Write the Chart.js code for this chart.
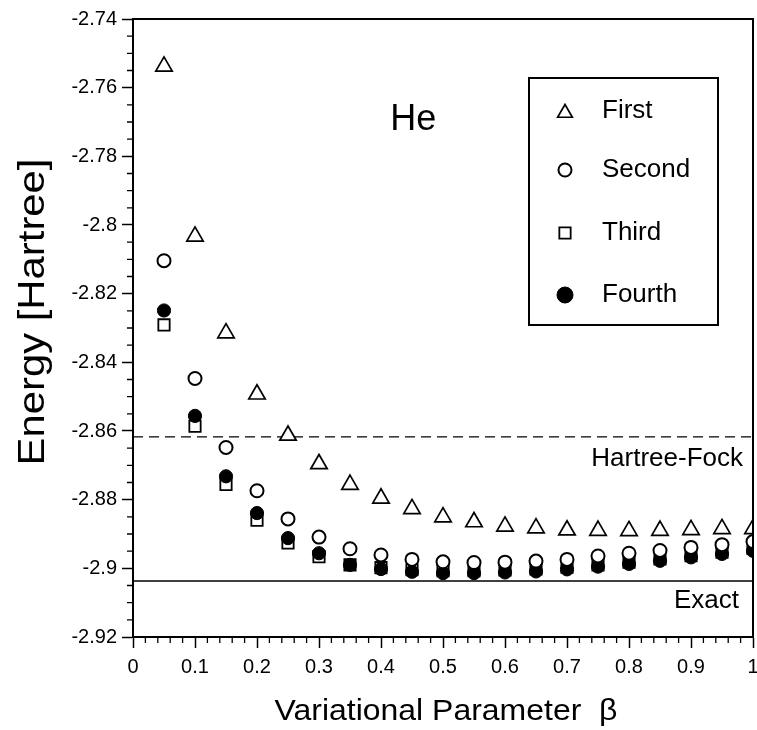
<!DOCTYPE html>
<html>
<head>
<meta charset="utf-8">
<script src="https://cdn.jsdelivr.net/npm/chart.js@4.4.1/dist/chart.umd.min.js"></script>
<style>
html,body{margin:0;padding:0;background:#fff;}
#wrap{width:757px;height:730px;}
</style>
</head>
<body>
<div id="wrap"><canvas id="c" width="757" height="730"></canvas></div>
<script>
const beta = [0.05,0.1,0.15,0.2,0.25,0.3,0.35,0.4,0.45,0.5,0.55,0.6,0.65,0.7,0.75,0.8,0.85,0.9,0.95,1.0];
const first = [-2.7538,-2.8033,-2.8315,-2.8493,-2.8613,-2.8696,-2.8756,-2.8796,-2.8827,-2.8851,-2.8865,-2.8878,-2.8883,-2.8889,-2.8890,-2.8891,-2.8890,-2.8888,-2.8885,-2.8885];
const second = [-2.8104,-2.8447,-2.8648,-2.8774,-2.8856,-2.8909,-2.8943,-2.8961,-2.8974,-2.8981,-2.8983,-2.8982,-2.8979,-2.8974,-2.8964,-2.8956,-2.8948,-2.8939,-2.8931,-2.8922];
const third = [-2.8291,-2.8586,-2.8756,-2.8860,-2.8926,-2.8966,-2.8990,-2.8998,-2.9004,-2.9007,-2.9007,-2.9005,-2.9002,-2.8997,-2.8990,-2.8982,-2.8973,-2.8963,-2.8953,-2.8942];
const fourth = [-2.8249,-2.8556,-2.8732,-2.8839,-2.8912,-2.8956,-2.8990,-2.9002,-2.9010,-2.9014,-2.9014,-2.9012,-2.9009,-2.9003,-2.8995,-2.8987,-2.8978,-2.8968,-2.8958,-2.8949];
const hartreeFock = -2.8617;
const exact = -2.9037;
const xTicks = [0,0.1,0.2,0.3,0.4,0.5,0.6,0.7,0.8,0.9,1];
const yTicks = [-2.92,-2.9,-2.88,-2.86,-2.84,-2.82,-2.8,-2.78,-2.76,-2.74];
const seriesNames = ['First','Second','Third','Fourth'];
const xTitle = 'Variational Parameter  \u03B2';
const yTitle = 'Energy [Hartree]';

const FONT = '"Liberation Sans", Arial, Helvetica, sans-serif';
const pts = arr => beta.map((b,i)=>({x:b,y:arr[i]}));

const markerStyles = [
  {pointStyle:'triangle', radius:9.5, backgroundColor:'#fff', borderColor:'#000', borderWidth:1.7},
  {pointStyle:'circle', radius:6.5, backgroundColor:'#fff', borderColor:'#000', borderWidth:2},
  {pointStyle:'rect', radius:8, backgroundColor:'#fff', borderColor:'#000', borderWidth:1.8},
  {pointStyle:'circle', radius:6.6, backgroundColor:'#000', borderColor:'#000', borderWidth:1}
];
const seriesData = [first, second, third, fourth];
const drawOrder = [4,1,3,2];

const datasets = seriesData.map((arr,i)=>({
  label: seriesNames[i],
  data: pts(arr),
  showLine:false,
  pointStyle: markerStyles[i].pointStyle,
  pointRadius: markerStyles[i].radius,
  pointHoverRadius: markerStyles[i].radius,
  pointBackgroundColor: markerStyles[i].backgroundColor,
  pointBorderColor: markerStyles[i].borderColor,
  pointBorderWidth: markerStyles[i].borderWidth,
  order: drawOrder[i],
  clip: 0
}));
datasets.push({
  label:'Hartree-Fock', type:'line', data:[{x:0,y:hartreeFock},{x:1,y:hartreeFock}],
  borderColor:'#000', borderWidth:1.3, borderDash:[10,6], pointRadius:0, order:6, clip:0
});
datasets.push({
  label:'Exact', type:'line', data:[{x:0,y:exact},{x:1,y:exact}],
  borderColor:'#000', borderWidth:1.5, pointRadius:0, order:5, clip:0
});

function stretchedText(ctx, text, x, y, size, targetWidth, rotate){
  ctx.save();
  ctx.font = size + 'px ' + FONT;
  const w = ctx.measureText(text).width;
  ctx.translate(x, y);
  if (rotate) ctx.rotate(-Math.PI/2);
  ctx.scale(targetWidth / w, 1);
  ctx.textAlign = 'center';
  ctx.textBaseline = 'alphabetic';
  ctx.fillStyle = '#000';
  ctx.fillText(text, 0, 0);
  ctx.restore();
}

const decor = {
  id:'decor',
  afterDraw(chart){
    const {ctx, chartArea:a, scales:{x,y}} = chart;
    ctx.save();
    // frame
    ctx.strokeStyle='#000'; ctx.lineWidth=2;
    ctx.strokeRect(a.left, a.top, a.right-a.left, a.bottom-a.top);
    // minor ticks
    ctx.lineWidth=1.3;
    ctx.beginPath();
    for(let k=0;k<=36;k++){
      if(k%4===0) continue;
      const py = y.getPixelForValue(-2.92 + k*0.005);
      ctx.moveTo(a.left-6, py); ctx.lineTo(a.left, py);
    }
    for(let k=0;k<=50;k++){
      if(k%5===0) continue;
      const px = x.getPixelForValue(k*0.02);
      ctx.moveTo(px, a.bottom); ctx.lineTo(px, a.bottom+6);
    }
    ctx.stroke();
    // axis titles
    stretchedText(ctx, xTitle, (a.left+a.right)/2 + 3, a.bottom + 83, 29, 343, false);
    stretchedText(ctx, yTitle, 44, (a.top+a.bottom)/2 - 16, 37, 307, true);
    // text labels
    ctx.fillStyle='#000';
    ctx.textBaseline='middle';
    ctx.font = '26px ' + FONT;
    ctx.textAlign='right';
    ctx.fillText('Hartree-Fock', a.right-10, y.getPixelForValue(hartreeFock)+22);
    ctx.fillText('Exact', a.right-14, y.getPixelForValue(exact)+20);
    ctx.textAlign='center';
    ctx.font = '36px ' + FONT;
    ctx.fillText('He', x.getPixelForValue(0.452), y.getPixelForValue(-2.7694));
    // legend
    const lx = a.right-224, ly = a.top+59, lw = 189, lh = 247;
    ctx.fillStyle='#fff';
    ctx.fillRect(lx,ly,lw,lh);
    ctx.strokeStyle='#000'; ctx.lineWidth=2;
    ctx.strokeRect(lx,ly,lw,lh);
    const rows=[33,92,155,217];
    ctx.font = '26px ' + FONT;
    ctx.textAlign='left';
    seriesNames.forEach((name,i)=>{
      const m = markerStyles[i];
      const cy = ly+rows[i];
      ctx.fillStyle = m.backgroundColor;
      ctx.strokeStyle = m.borderColor;
      ctx.lineWidth = m.borderWidth;
      Chart.helpers.drawPoint(ctx,{pointStyle:m.pointStyle, radius: i===3?8:(i===0?8.5:m.radius), borderWidth:m.borderWidth, rotation:0}, lx+36, cy + (i===0?2:0));
      ctx.fillStyle='#000';
      ctx.fillText(name, lx+73, cy);
    });
    ctx.restore();
  }
};

new Chart(document.getElementById('c'), {
  type:'scatter',
  data:{datasets},
  options:{
    responsive:false,
    animation:false,
    events:[],
    layout:{autoPadding:false, padding:{left:0,top:19,right:4,bottom:0}},
    plugins:{legend:{display:false}, tooltip:{enabled:false}},
    scales:{
      x:{
        type:'linear', min:0, max:1,
        afterBuildTicks(s){ s.ticks = xTicks.map(v=>({value:v})); },
        afterFit(s){ s.height = 93; s.paddingLeft = 0; s.paddingRight = 0; },
        ticks:{color:'#000', font:{family:FONT, size:20}, padding:7,
          callback:v=>String(Math.round(v*10)/10), maxRotation:0, autoSkip:false},
        grid:{drawOnChartArea:false, drawTicks:true, tickLength:11, tickColor:'#000', tickWidth:1.5},
        border:{display:true, color:'#000', width:2},
        title:{display:false}
      },
      y:{
        type:'linear', min:-2.92, max:-2.74,
        afterBuildTicks(s){ s.ticks = yTicks.map(v=>({value:v})); },
        afterFit(s){ s.width = 133; s.paddingTop = 0; s.paddingBottom = 0; },
        ticks:{color:'#000', font:{family:FONT, size:20}, padding:5,
          callback:v=>String(Math.round(v*100)/100), autoSkip:false},
        grid:{drawOnChartArea:false, drawTicks:true, tickLength:11, tickColor:'#000', tickWidth:1.5},
        border:{display:true, color:'#000', width:2},
        title:{display:false}
      }
    }
  },
  plugins:[decor]
});
</script>
</body>
</html>
